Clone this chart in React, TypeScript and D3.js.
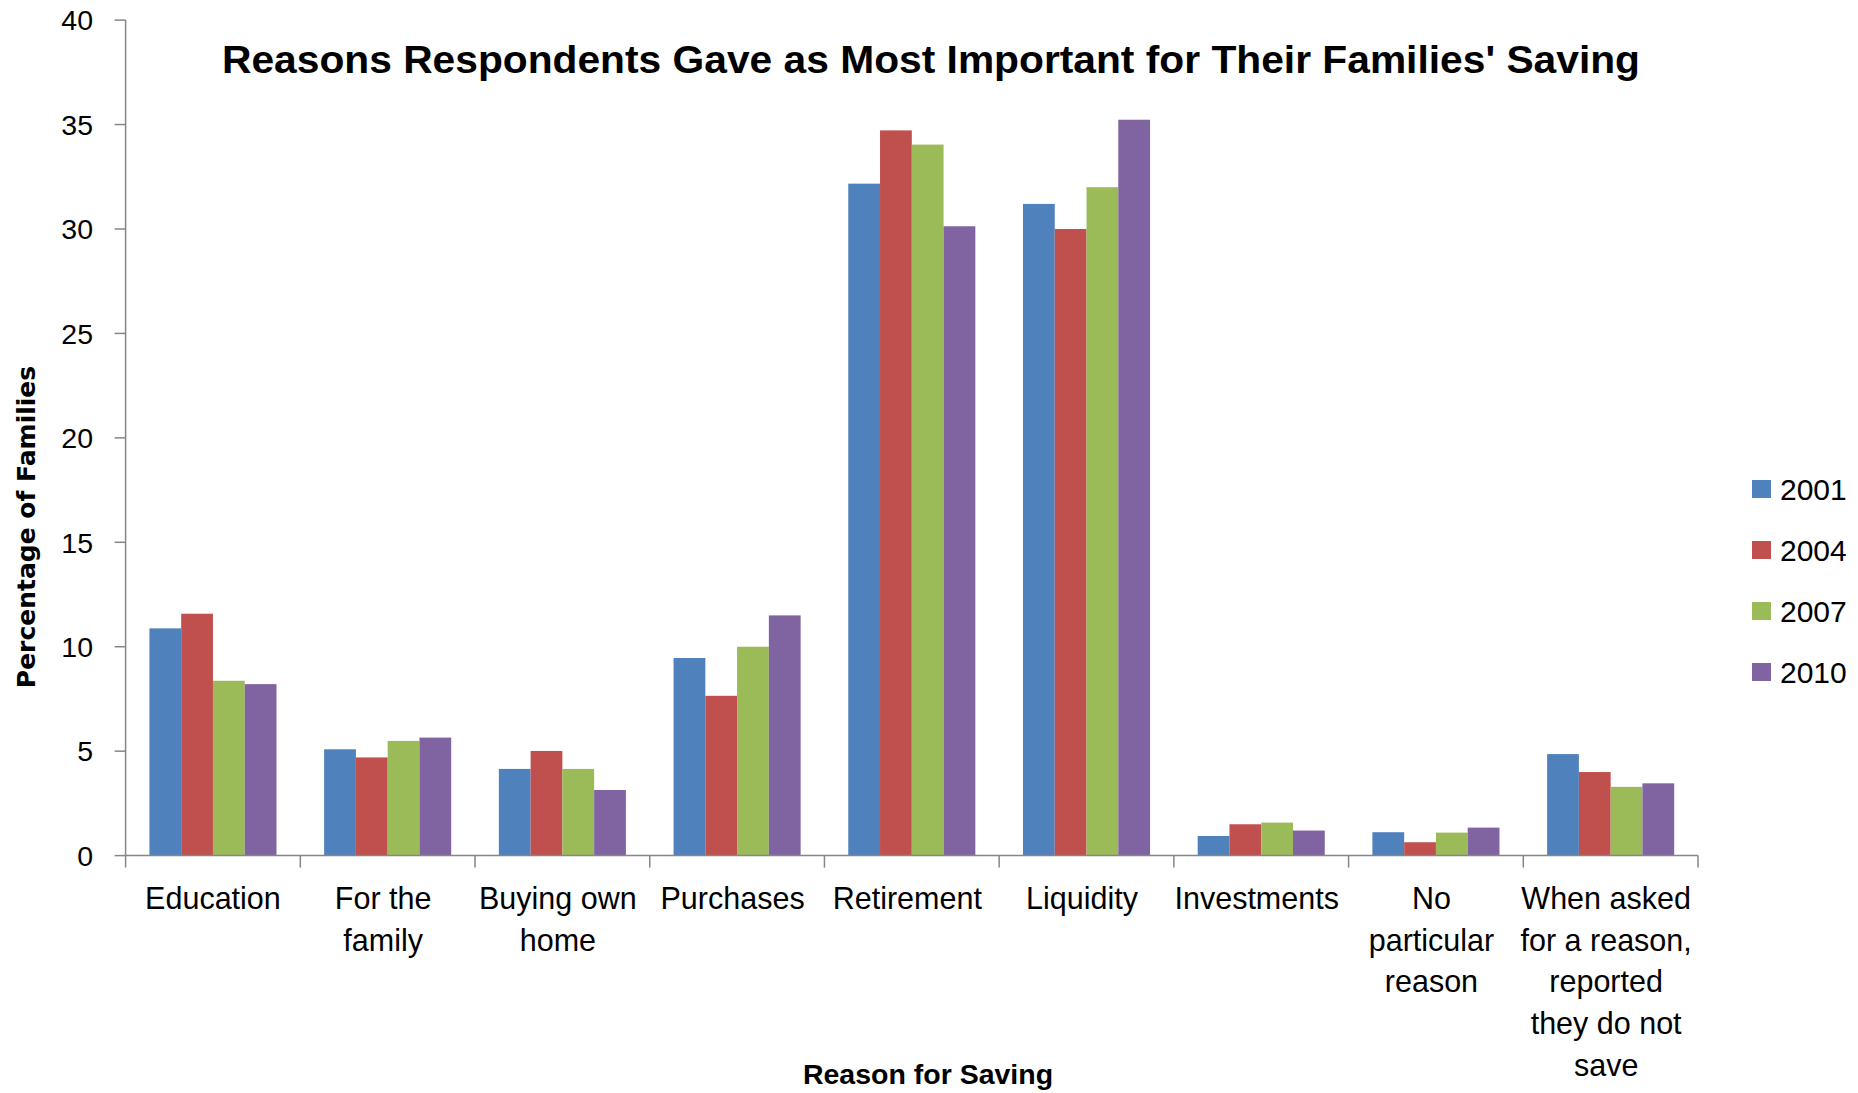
import React from "react";
import * as d3 from "d3";

const categories: string[][] = [
  ["Education"],
  ["For the", "family"],
  ["Buying own", "home"],
  ["Purchases"],
  ["Retirement"],
  ["Liquidity"],
  ["Investments"],
  ["No", "particular", "reason"],
  ["When asked", "for a reason,", "reported", "they do not", "save"],
];

const seriesNames = ["2001", "2004", "2007", "2010"];

const values2001 = [10.88, 5.09, 4.15, 9.46, 32.17, 31.2, 0.94, 1.12, 4.86];
const values2004 = [11.58, 4.7, 5.01, 7.65, 34.72, 30.0, 1.5, 0.64, 4.0];
const values2007 = [8.37, 5.49, 4.15, 10.0, 34.04, 32.0, 1.58, 1.1, 3.29];
const values2010 = [8.21, 5.65, 3.14, 11.5, 30.13, 35.23, 1.2, 1.34, 3.46];

const yTicks = [0, 5, 10, 15, 20, 25, 30, 35, 40];

const colors = ["#4F81BD", "#C0504D", "#9BBB59", "#8064A2"];

const W = 1858;
const H = 1093;
const FONT = "'Liberation Sans', Arial, sans-serif";

export default function App() {
  const seriesValues = [values2001, values2004, values2007, values2010];
  const catKeys = categories.map((c) => c.join(" "));
  const left = 125.6;
  const right = 1698;
  const zeroY = 855.6;
  const topY = 20.1;

  const x0 = d3
    .scaleBand<string>()
    .domain(catKeys)
    .range([left, right])
    .paddingInner(1.5 / 5.5)
    .paddingOuter(0.75 / 5.5);
  const x1 = d3
    .scaleBand<string>()
    .domain(seriesNames)
    .range([0, x0.bandwidth()]);
  const y = d3.scaleLinear().domain([0, 40]).range([zeroY, topY]);

  const step = x0.step();
  const boundaries = d3.range(categories.length + 1).map((i) => left + i * step);
  const axisColor = "#868686";

  return (
    <svg
      width={W}
      height={H}
      style={{ position: "absolute", left: 0, top: 0, background: "#fff" }}
    >
      <rect x={0} y={0} width={W} height={H} fill="#fff" />
      {/* bars */}
      {catKeys.map((ck, ci) => (
        <g key={ck} transform={`translate(${x0(ck)},0)`}>
          {seriesNames.map((s, si) => {
            const v = seriesValues[si][ci];
            return (
              <rect
                key={s}
                x={x1(s)}
                y={y(v)}
                width={x1.bandwidth()}
                height={zeroY - y(v)}
                fill={colors[si]}
              />
            );
          })}
        </g>
      ))}
      {/* y axis */}
      <line x1={left} x2={left} y1={topY} y2={zeroY} stroke={axisColor} strokeWidth={1.5} />
      {yTicks.map((t) => (
        <g key={t}>
          <line x1={left - 11} x2={left} y1={y(t)} y2={y(t)} stroke={axisColor} strokeWidth={1.5} />
          <text
            x={93}
            y={y(t)}
            dy="0.36em"
            textAnchor="end"
            fontFamily={FONT}
            fontSize={28.5}
            fill="#000"
          >
            {t}
          </text>
        </g>
      ))}
      {/* x axis */}
      <line x1={left} x2={right} y1={zeroY} y2={zeroY} stroke={axisColor} strokeWidth={1.5} />
      {boundaries.map((bx, i) => (
        <line key={i} x1={bx} x2={bx} y1={zeroY} y2={zeroY + 12} stroke={axisColor} strokeWidth={1.5} />
      ))}
      {categories.map((lines, ci) => {
        const cx = (x0(catKeys[ci]) as number) + x0.bandwidth() / 2 - (ci === 0 ? 0 : 4.5);
        return (
          <text
            key={ci}
            x={cx}
            y={909}
            textAnchor="middle"
            fontFamily={FONT}
            fontSize={30.5}
            fill="#000"
          >
            {lines.map((ln, li) => (
              <tspan key={li} x={cx} y={909 + li * 41.7}>
                {ln}
              </tspan>
            ))}
          </text>
        );
      })}
      {/* title */}
      <text
        x={931}
        y={73}
        textAnchor="middle"
        fontFamily={FONT}
        fontWeight="bold"
        fontSize={38.5}
        textLength={1418}
        lengthAdjust="spacingAndGlyphs"
        fill="#000"
      >
        Reasons Respondents Gave as Most Important for Their Families' Saving
      </text>
      {/* axis titles */}
      <text
        x={928}
        y={1084}
        textAnchor="middle"
        fontFamily={FONT}
        fontWeight="bold"
        fontSize={28.5}
        fill="#000"
      >
        Reason for Saving
      </text>
      <text
        transform="translate(35,527) rotate(-90)"
        textAnchor="middle"
        fontFamily="'DejaVu Sans', Verdana, sans-serif"
        fontWeight="bold"
        fontSize={25}
        fill="#000"
      >
        Percentage of Families
      </text>
      {/* legend */}
      {seriesNames.map((s, si) => {
        const cy = 489 + si * 61;
        return (
          <g key={s}>
            <rect x={1752} y={cy - 9} width={19} height={18} fill={colors[si]} />
            <text x={1780} y={cy} dy="0.36em" fontFamily={FONT} fontSize={30} fill="#000">
              {s}
            </text>
          </g>
        );
      })}
    </svg>
  );
}
